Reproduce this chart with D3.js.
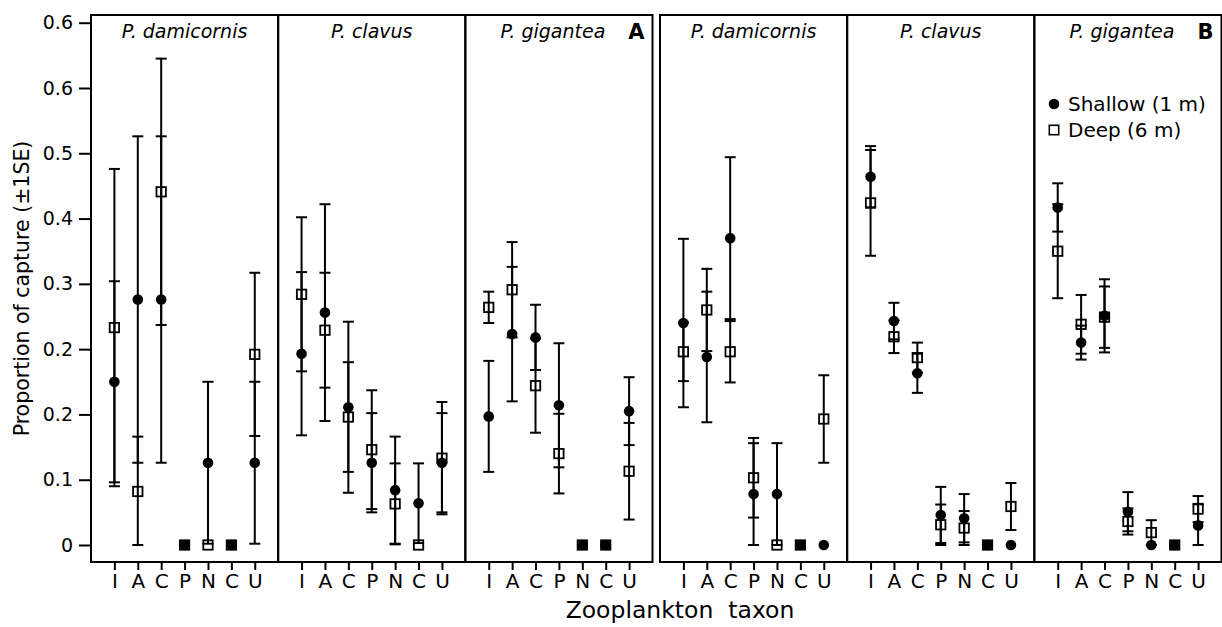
<!DOCTYPE html>
<html>
<head>
<meta charset="utf-8">
<script src="https://cdn.jsdelivr.net/npm/d3@7"></script>
<style>
  body { margin: 0; background: #fff; }
  svg { display: block; font-family: "DejaVu Sans", sans-serif; }
</style>
</head>
<body>
<svg id="chart" width="1222" height="627"></svg>
<script>
// taxon codes along each panel's x axis
const taxa = ["I", "A", "C", "P", "N", "C", "U"];
const species = ["P. damicornis", "P. clavus", "P. gigantea"];
const groups = ["A", "B"];

// the printed y labels (the original figure repeats 0.2 and 0.6)
const yTicks = [0, 0.1, 0.2, 0.3, 0.4, 0.5, 0.6, 0.7, 0.8];
const yTickLabels = ["0", "0.1", "0.2", "0.2", "0.3", "0.4", "0.5", "0.6", "0.6"];

// one row per panel: A damicornis, A clavus, A gigantea, B damicornis, B clavus, B gigantea
const shallowMean = [
  [0.250, 0.376, 0.376, 0, 0.126, 0, 0.126],
  [0.293, 0.356, 0.211, 0.126, 0.084, 0.064, 0.126],
  [0.197, 0.323, 0.318, 0.214, 0, 0, 0.205],
  [0.340, 0.288, 0.470, 0.078, 0.078, 0, 0],
  [0.564, 0.343, 0.263, 0.046, 0.041, 0, 0],
  [0.517, 0.310, 0.351, 0.051, 0, 0, 0.030]
];
const shallowSE = [
  [0.154, 0.250, 0.250, 0, 0.124, 0, 0.124],
  [0.125, 0.166, 0.131, 0.076, 0.082, 0.061, 0.076],
  [0.085, 0.103, 0.050, 0.095, 0, 0, 0.052],
  [0.129, 0.100, 0.124, 0.078, 0.078, 0, 0],
  [0.047, 0.028, 0.030, 0.043, 0.037, 0, 0],
  [0.037, 0.026, 0.056, 0.030, 0, 0, 0.033]
];
const deepMean = [
  [0.333, 0.082, 0.541, 0, 0, 0, 0.292],
  [0.384, 0.329, 0.196, 0.146, 0.063, 0, 0.133],
  [0.364, 0.391, 0.244, 0.140, 0, 0, 0.113],
  [0.296, 0.360, 0.296, 0.103, 0, 0, 0.193],
  [0.524, 0.319, 0.287, 0.031, 0.026, 0, 0.059],
  [0.450, 0.338, 0.349, 0.036, 0.019, 0, 0.055]
];
const deepSE = [
  [0.243, 0.084, 0.204, 0, 0, 0, 0.125],
  [0.118, 0.088, 0.084, 0.091, 0.062, 0, 0.086],
  [0.024, 0.073, 0.072, 0.061, 0, 0, 0.074],
  [0.045, 0.063, 0.047, 0.061, 0, 0, 0.067],
  [0.081, 0.025, 0.023, 0.031, 0.026, 0, 0.036],
  [0.072, 0.045, 0.047, 0.020, 0.019, 0, 0.020]
];

const svg = d3.select("#chart");
const plotTop = 15, plotBottom = 562;
const groupLeft = [91, 660];
const groupWidth = 561.5;
const panelWidth = groupWidth / 3;
const capHalf = 5.5;

const y = d3.scaleLinear().domain([0, 0.8]).range([545, 22.7]);

// y axis on the far left only
const yAxis = svg.append("g")
  .attr("transform", `translate(${groupLeft[0]},0)`)
  .call(d3.axisLeft(y).tickValues(yTicks).tickFormat((d, i) => yTickLabels[i]).tickSize(12).tickPadding(6));
yAxis.select(".domain").remove();
yAxis.selectAll("line").attr("stroke", "#000").attr("stroke-width", 2);
yAxis.selectAll("text").attr("font-size", 19).attr("font-family", "DejaVu Sans").attr("fill", "#000");

svg.append("text")
  .attr("transform", `translate(29,${(plotTop + plotBottom) / 2}) rotate(-90)`)
  .attr("text-anchor", "middle")
  .attr("font-size", 20.5)
  .text("Proportion of capture (±1SE)");

function drawSeries(g, x, means, ses, kind){
  const pts = means.map((m, i) => ({i, m, se: ses[i]}));
  const bars = pts.filter(d => d.se > 0);
  const eb = g.append("g").attr("stroke", "#000").attr("stroke-width", 2);
  eb.selectAll("line.v").data(bars).enter().append("line")
    .attr("x1", d => x(d.i)).attr("x2", d => x(d.i))
    .attr("y1", d => y(Math.max(0, d.m - d.se))).attr("y2", d => y(d.m + d.se));
  eb.selectAll("line.hi").data(bars).enter().append("line")
    .attr("x1", d => x(d.i) - capHalf).attr("x2", d => x(d.i) + capHalf)
    .attr("y1", d => y(d.m + d.se)).attr("y2", d => y(d.m + d.se));
  eb.selectAll("line.lo").data(bars).enter().append("line")
    .attr("x1", d => x(d.i) - capHalf).attr("x2", d => x(d.i) + capHalf)
    .attr("y1", d => y(Math.max(0, d.m - d.se))).attr("y2", d => y(Math.max(0, d.m - d.se)));
  if(kind === "shallow"){
    g.selectAll("circle").data(pts).enter().append("circle")
      .attr("cx", d => x(d.i)).attr("cy", d => y(d.m)).attr("r", 5.3).attr("fill", "#000");
  } else {
    g.selectAll("rect").data(pts).enter().append("rect")
      .attr("x", d => x(d.i) - 4.7).attr("y", d => y(d.m) - 4.7)
      .attr("width", 9.4).attr("height", 9.4)
      .attr("fill", "none").attr("stroke", "#000").attr("stroke-width", 1.8);
  }
}

groups.forEach((grp, gi) => {
  const g0 = groupLeft[gi];
  species.forEach((sp, si) => {
    const p = gi * 3 + si;
    const left = g0 + si * panelWidth;
    const x = d3.scalePoint().domain(d3.range(taxa.length)).range([left, left + panelWidth]).padding(1);
    const panel = svg.append("g");

    panel.append("rect")
      .attr("x", left).attr("y", plotTop)
      .attr("width", panelWidth).attr("height", plotBottom - plotTop)
      .attr("fill", "none").attr("stroke", "#000").attr("stroke-width", 2);

    const xAxis = panel.append("g")
      .attr("transform", `translate(0,${plotBottom})`)
      .call(d3.axisBottom(x).tickFormat(i => taxa[i]).tickSize(8).tickPadding(4));
    xAxis.select(".domain").remove();
    xAxis.selectAll("line").attr("stroke", "#000").attr("stroke-width", 2);
    xAxis.selectAll("text").attr("font-size", 20).attr("font-family", "DejaVu Sans").attr("fill", "#000");

    panel.append("text")
      .attr("x", left + panelWidth / 2 - (si === 2 ? 6 : 0)).attr("y", 38)
      .attr("text-anchor", "middle").attr("font-size", 19).attr("font-style", "italic")
      .text(sp);

    drawSeries(panel.append("g"), x, shallowMean[p], shallowSE[p], "shallow");
    drawSeries(panel.append("g"), x, deepMean[p], deepSE[p], "deep");
  });

  svg.append("text")
    .attr("x", g0 + groupWidth - 8).attr("y", 39)
    .attr("text-anchor", "end").attr("font-size", 21).attr("font-weight", "bold")
    .text(grp);
});

// legend inside the last panel
const legend = svg.append("g").attr("transform", "translate(1054,104)");
legend.append("circle").attr("r", 5.3).attr("fill", "#000");
legend.append("text").attr("x", 14).attr("y", 7).attr("font-size", 20).text("Shallow (1 m)");
legend.append("rect").attr("x", -4.7).attr("y", 26 - 4.7).attr("width", 9.4).attr("height", 9.4)
  .attr("fill", "none").attr("stroke", "#000").attr("stroke-width", 1.6);
legend.append("text").attr("x", 14).attr("y", 33).attr("font-size", 20).text("Deep (6 m)");

svg.append("text")
  .attr("x", 680).attr("y", 618)
  .attr("text-anchor", "middle").attr("font-size", 23.5)
  .attr("xml:space", "preserve")
  .text("Zooplankton  taxon");
</script>
</body>
</html>
